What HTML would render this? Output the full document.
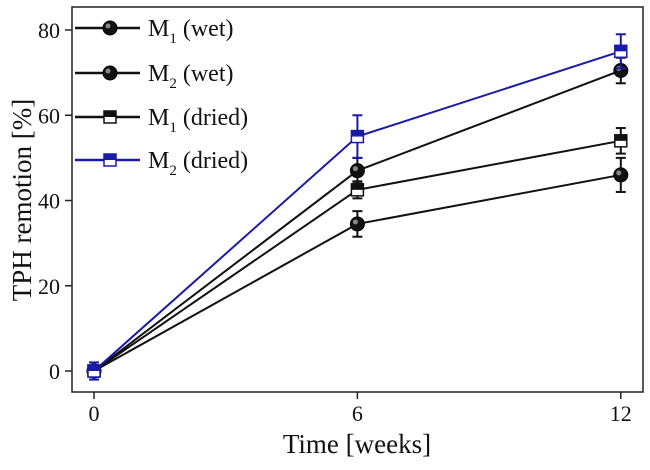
<!DOCTYPE html>
<html><head><meta charset="utf-8"><style>
body{margin:0;background:#fff}
svg text{font-family:"Liberation Serif",serif;fill:#111}
</style></head><body>
<svg id="chart" width="650" height="465" xmlns="http://www.w3.org/2000/svg">
<rect x="72" y="7" width="571" height="385" fill="none" stroke="#222" stroke-width="1.5"/>
<g id="axes"></g><g id="series"></g>
<text transform="translate(31,200) rotate(-90)" text-anchor="middle" font-size="27">TPH remotion [%]</text>
<text x="357" y="453" text-anchor="middle" font-size="27">Time [weeks]</text>
<g id="legend"></g>
</svg>
<script>
const weeks=[0,6,12];
const m1Wet=[0,34.5,46];
const m1WetErr=[2,3,4];
const m2Wet=[0,47,70.5];
const m2WetErr=[2,3,3];
const m1Dried=[0,42.5,54];
const m1DriedErr=[2,2,3];
const m2Dried=[0,55,75];
const m2DriedErr=[2,5,4];
const xTicks=[0,6,12];
const yTicks=[0,20,40,60,80];
const NS="http://www.w3.org/2000/svg";
const X=v=>94+v*43.9, Y=v=>371-v*4.2625;
function mk(t,a,p){const e=document.createElementNS(NS,t);for(const k in a)e.setAttribute(k,a[k]);p.appendChild(e);return e;}
const ax=document.getElementById('axes');
xTicks.forEach(t=>{
 const l=mk('line',{x1:X(t),x2:X(t),y1:392,y2:399,stroke:'#222','stroke-width':1.5},ax);
 
 
 const tx=mk('text',{x:X(t),y:421,'text-anchor':'middle','font-size':22},ax);tx.textContent=t;
 
 
});
yTicks.forEach(t=>{
 const l=mk('line',{x1:65,x2:72,y1:Y(t),y2:Y(t),stroke:'#222','stroke-width':1.5},ax);
 
 
 const tx=mk('text',{x:60,y:Y(t)+8,'text-anchor':'end','font-size':22},ax);tx.textContent=t;
 
 
});
function marker(g,shape,x,y,col){
 if(shape==='circle'){mk('circle',{cx:x,cy:y,r:7,fill:'#111',stroke:'#000'},g);mk('circle',{cx:x-2,cy:y-2,r:2.5,fill:'#888'},g);}
 else{mk('rect',{x:x-6,y:y-6,width:12,height:12,fill:'#fff',stroke:col,'stroke-width':1.5},g);mk('rect',{x:x-6,y:y-6,width:12,height:6,fill:col},g);}
}
const ser=[
 {n:'m1-wet',v:m1Wet,e:m1WetErr,c:'#111',s:'circle'},
 {n:'m2-wet',v:m2Wet,e:m2WetErr,c:'#111',s:'circle'},
 {n:'m1-dried',v:m1Dried,e:m1DriedErr,c:'#111',s:'square'},
 {n:'m2-dried',v:m2Dried,e:m2DriedErr,c:'#1a1aa8',s:'square'}];
const sg=document.getElementById('series');
ser.forEach(s=>{
 const g=mk('g',{},sg);
 
 
 mk('polyline',{points:weeks.map((w,i)=>X(w)+','+Y(s.v[i])).join(' '),fill:'none',stroke:s.c,'stroke-width':2},g);
 weeks.forEach((w,i)=>{
  const x=X(w),y1=Y(s.v[i]-s.e[i]),y2=Y(s.v[i]+s.e[i]);
  mk('line',{x1:x,x2:x,y1:y1,y2:y2,stroke:s.c,'stroke-width':2},g);
  mk('line',{x1:x-5,x2:x+5,y1:y1,y2:y1,stroke:s.c,'stroke-width':2},g);
  mk('line',{x1:x-5,x2:x+5,y1:y2,y2:y2,stroke:s.c,'stroke-width':2},g);
  const p=mk('g',{},g);
  
  
  marker(p,s.s,x,Y(s.v[i]),s.c);
 });
});
const lg=document.getElementById('legend');
const labels=[['1','(wet)'],['2','(wet)'],['1','(dried)'],['2','(dried)']];
const ly=[28,73,117,160];
ser.forEach((s,i)=>{
 const g=mk('g',{},lg);
 
 
 mk('line',{x1:75,x2:140,y1:ly[i],y2:ly[i],stroke:s.c,'stroke-width':2.5},g);
 marker(g,s.s,110,ly[i],s.c);
 const t=mk('text',{x:148,y:ly[i]+8,'font-size':24},g);
 t.innerHTML='M<tspan font-size="15" dy="7">'+labels[i][0]+'</tspan><tspan dy="-7"> '+labels[i][1]+'</tspan>';
});
</script>
</body></html>
